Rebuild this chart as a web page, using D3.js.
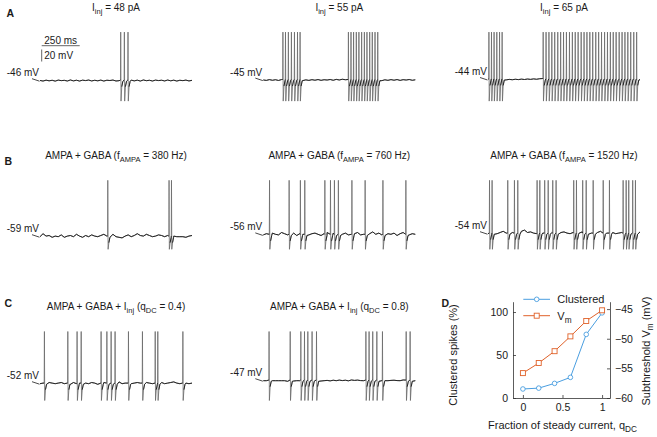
<!DOCTYPE html>
<html><head><meta charset="utf-8">
<script src="https://cdn.jsdelivr.net/npm/d3@7"></script>
<style>body{margin:0;background:#fff} svg{display:block;font-family:"Liberation Sans",Arial,sans-serif}</style>
</head><body><svg id="c" width="657" height="437"></svg>
<script>
// ---------------- DATA ----------------
// Panel A: injected currents, resting labels, spike times (ms), subthreshold Vm offsets (mV, every 20 ms)
const iinjA = ["48 pA", "55 pA", "65 pA"];
const restA = [-46, -45, -44];
const spikesA1 = [530, 554, 578];
const spikesA2 = [128, 145, 164, 184, 204, 224, 241, 559, 576, 593, 611, 628, 646, 664, 681, 699, 716, 734, 752];
const spikesA3 = [5, 22, 39, 57, 75, 92, 362, 381, 400, 419, 438, 458, 477, 496, 515, 535, 554, 573, 592, 612, 631, 650, 669, 688, 708, 727, 746, 766, 785, 804, 823, 842, 862, 881, 900, 919, 938, 958, 977];
const vmA1 = [0.4,-0.6,0.9,-0.2,0.7,-0.7,1.0,0.1,0.6,-0.5,1.2,-0.3,0.8,-0.6,0.9,0.2,1.1,-0.4,0.7,-0.2,1.0,-0.6,0.8,0.3,1.1,-0.5,0,0,0,-0.8,1.0,-0.3,0.9,-0.6,1.2,0.0,0.7,-0.5,1.0,0.2,0.8,-0.4,1.1,-0.2,0.9,-0.6,0.7,0.1,1.0,-0.4,0.6];
const vmA2 = [0.2,-0.5,0.8,-0.3,0.6,-0.6,0.9,0,0,0,0,0,0,-0.8,0.4,-0.5,0.7,-0.2,0.9,-0.4,0.6,0.1,1.0,-0.3,1.2,0.2,1.4,0.6,1.8,0,0,0,0,0,0,0,0,0,0,-0.9,0.5,-0.4,0.8,-0.2,0.9,-0.5,0.7,0.1,1.0,-0.3,0.5];
const vmA3 = [0,0,0,0,0,-1.2,-0.6,0.2,-0.4,0.4,-0.2,0.6,0,0.8,0.2,1.0,0.4,1.3,1.6,0,0,0,0,0,0,0,0,0,0,0,0,0,0,0,0,0,0,0,0,0,0,0,0,0,0,0,0,0,0,0,0];
// Panel B: AMPA rates, resting labels, spike times, subthreshold offsets
const fAMPA = [380, 760, 1520];
const restB = [-59, -56, -54];
const spikesB1 = [445, 848, 864];
const spikesB2 = [40, 169, 243, 272, 404, 441, 467, 493, 582, 669, 786, 937];
const spikesB3 = [9, 26, 129, 173, 195, 322, 340, 372, 395, 425, 447, 563, 581, 622, 645, 691, 757, 798, 888, 908, 925, 951, 969];
const vmB1 = [0,5,1,2,-1,1,0,3,-1,1,2,0,4,1,-1,2,0,3,1,0,2,4,1,3,4,0,-1,-2,1,3,0,2,5,2,1,4,2,0,1,3,2,0,2,4,1,0,0,0,-1,1,2];
const vmB2 = [0,2,-1,3,1,0,4,2,0,1,3,-1,2,1,4,0,2,3,1,-1,2,4,1,3,0,2,1,3,0,1,2,4,0,1,3,2,5,1,3,0,4,2,1,3,-1,2,4,1,0,2,1];
const vmB3 = [0,1,3,0,2,4,1,-1,2,3,1,4,6,2,3,1,0,2,1,3,0,2,4,1,2,3,1,0,2,4,1,3,0,2,1,3,2,4,0,1,3,2,0,1,2,3,1,0,2,1,3];
// Panel C: DC fractions, resting labels, spike times, subthreshold offsets
const qDCtitle = ["0.4", "0.8"];
const restC = [-52, -47];
const spikesC1 = [28, 182, 243, 270, 401, 439, 467, 493, 581, 673, 757, 774, 939];
const spikesC2 = [37, 176, 246, 270, 292, 320, 349, 674, 695, 719, 746, 783, 939, 965];
const vmC1 = [0,1,-1,2,1,0,1,2,0,1,-1,2,0,1,2,1,0,2,1,-1,0,2,1,0,2,1,3,0,1,2,0,1,2,1,0,2,1,0,3,1,2,0,1,2,3,1,0,2,1,0,1];
const vmC2 = [0,0,0,0,0,0,0,0,-1,0.5,-0.5,0,0,0,0,0,0,0,-1.5,-0.5,0,0.5,-0.3,0.8,0,1,0.2,0.8,-0.2,1.2,0.5,1.0,0.2,0,0,0,0,0,0,0,0,0,0.5,0.8,0.2,0,1.2,0,0,0,0];
// Panel D
const qDC = [0, 0.2, 0.4, 0.6, 0.8, 1];
const clustered = [10.5, 11.5, 17, 24, 74, 99];
const vmSub = [-55.8, -54.1, -52.1, -49.6, -47.0, -45.2];
const ticksLeft = [0, 50, 100];
const ticksRight = [-60, -55, -50, -45];
const ticksX = [0, 0.5, 1];

// ---------------- DRAWING ----------------
const svg = d3.select("#c");
const FONT = "'Liberation Sans', Arial, sans-serif";
const ink = "#1a1a1a";

function rich(g, x, y, parts, size, anchor) {
  const t = g.append("text").attr("x", x).attr("y", y).attr("font-size", size)
    .attr("text-anchor", anchor || "middle").attr("fill", ink);
  let sub = false;
  parts.forEach(p => {
    const isSub = p[1] === "sub";
    const ts = t.append("tspan").text(p[0]).attr("fill", ink);
    if (isSub && !sub) ts.attr("dy", size * 0.3).attr("font-size", size * 0.75);
    else if (!isSub && sub) ts.attr("dy", -size * 0.3);
    else if (isSub) ts.attr("font-size", size * 0.75);
    sub = isSub;
  });
  return t;
}

const colX = [40, 263.3, 488];
const rowY0 = [53.1, 201.3, 352.5];
const TW = 152, K = 0.6;
const PEAK = 35, TROUGH = -80;

function trace(col, row, rest, spikes, vm) {
  const x = d3.scaleLinear().domain([0, 1000]).range([colX[col], colX[col] + TW]);
  const y = d3.scaleLinear().domain([0, 100]).range([rowY0[row], rowY0[row] - 100 * K]);
  const step = 1000 / (vm.length - 1);
  const pts = [];
  vm.forEach((v, i) => {
    const t = i * step;
    if (!spikes.some(s => t >= s - 1 && t <= s + 15)) pts.push({t, v: rest + v, sp: false});
  });
  spikes.forEach(s => {
    pts.push({t: s - 0.5, v: rest + 1, sp: false});
    pts.push({t: s + 1, v: PEAK, sp: true});
    pts.push({t: s + 3, v: TROUGH, sp: true});
    pts.push({t: s + 8, v: rest - 10, sp: false});
    pts.push({t: s + 15, v: rest - 1, sp: false});
  });
  pts.sort((a, b) => a.t - b.t);
  const clipped = pts.filter(p => p.t >= 0 && p.t <= 1000);
  const ln = d3.line().x(d => x(d.t)).y(d => y(d.v));
  svg.append("path").attr("d", ln(clipped))
    .attr("fill", "none").attr("stroke", "#6a6a6a").attr("stroke-width", 0.8).attr("stroke-linejoin", "round");
  svg.append("path").attr("d", ln.defined(d => !d.sp)(clipped))
    .attr("fill", "none").attr("stroke", "#1a1a1a").attr("stroke-width", 0.9).attr("stroke-linejoin", "round");
  // resting label with leader
  const by = y(rest);
  svg.append("line").attr("x1", x(0) - 8).attr("y1", by - 2).attr("x2", x(0) - 0.5).attr("y2", by + 0.5)
    .attr("stroke", ink).attr("stroke-width", 0.8);
  svg.append("text").attr("x", x(0) - 1).attr("y", by - 4.5).attr("text-anchor", "end")
    .attr("font-size", 10).attr("fill", ink).text(rest + " mV");
  return {x, y};
}

// Panel letters
[["A", 13, 6.5], ["B", 161, 4.5], ["C", 303, 4.5]].forEach(d => {
  svg.append("text").attr("x", d[2]).attr("y", d[1] + 4).attr("font-size", 10.5).attr("font-weight", "bold").attr("fill", ink).text(d[0]);
});
svg.append("text").attr("x", 441.5).attr("y", 307).attr("font-size", 10.5).attr("font-weight", "bold").attr("fill", ink).text("D");

// Row A
const spA = [spikesA1, spikesA2, spikesA3], vA = [vmA1, vmA2, vmA3];
let sA;
iinjA.forEach((c, i) => {
  const s = trace(i, 0, restA[i], spA[i], vA[i]);
  if (i === 0) sA = s;
  rich(svg, colX[i] + TW / 2, 10.5, [["I", ""], ["inj", "sub"], [" = " + c, ""]], 10);
});
// scale bar (250 ms, 20 mV) in panel A
{
  const x0 = sA.x(0) + 1.7, yb = 45.7;
  const len = sA.x(250) - sA.x(0);
  svg.append("line").attr("x1", x0).attr("x2", x0 + len).attr("y1", yb).attr("y2", yb).attr("stroke", "#555").attr("stroke-width", 0.9);
  svg.append("text").attr("x", x0 + len / 2).attr("y", 44).attr("text-anchor", "middle").attr("font-size", 10).attr("fill", ink).text("250 ms");
  const vlen = sA.y(0) - sA.y(20);
  svg.append("line").attr("x1", x0).attr("x2", x0).attr("y1", 49.5).attr("y2", 49.5 + vlen).attr("stroke", "#555").attr("stroke-width", 0.9);
  svg.append("text").attr("x", x0 + 2.5).attr("y", 58.5).attr("font-size", 10).attr("fill", ink).text("20 mV");
}

// Row B
const spB = [spikesB1, spikesB2, spikesB3], vB = [vmB1, vmB2, vmB3];
fAMPA.forEach((f, i) => {
  trace(i, 1, restB[i], spB[i], vB[i]);
  rich(svg, colX[i] + TW / 2, 158.5, [["AMPA + GABA (f", ""], ["AMPA", "sub"], [" = " + f + " Hz)", ""]], 10);
});

// Row C
const spC = [spikesC1, spikesC2], vC = [vmC1, vmC2];
qDCtitle.forEach((q, i) => {
  trace(i, 2, restC[i], spC[i], vC[i]);
  rich(svg, colX[i] + TW / 2, 309.5, [["AMPA + GABA + I", ""], ["inj", "sub"], [" (q", ""], ["DC", "sub"], [" = " + q + ")", ""]], 10);
});

// ---------------- Panel D ----------------
const xD = d3.scaleLinear().domain([-0.125, 1.1]).range([513, 610]);
const yL = d3.scaleLinear().domain([0, 112]).range([398, 301.7]);
const yR = d3.scaleLinear().domain([-60, -43.75]).range([398, 301.7]);
const blue = "#4a9ee0", orange = "#e0622a", axc = "#333";

const axB = d3.axisBottom(xD).tickValues(ticksX).tickSize(-3).tickSizeOuter(0).tickPadding(6).tickFormat(d3.format("~g"));
const axL = d3.axisLeft(yL).tickValues(ticksLeft).tickSize(-3).tickSizeOuter(0).tickPadding(5);
const axR = d3.axisRight(yR).tickValues(ticksRight).tickSize(-3).tickSizeOuter(0).tickPadding(5);
function styleAx(g) {
  g.select(".domain").attr("stroke", axc).attr("stroke-width", 0.8);
  g.selectAll(".tick line").attr("stroke", axc).attr("stroke-width", 0.8);
  g.selectAll(".tick text").attr("fill", ink).attr("font-size", 10.5).attr("font-family", FONT);
}
svg.append("g").attr("transform", "translate(0,398)").call(axB).call(styleAx);
svg.append("g").attr("transform", "translate(513,0)").call(axL).call(styleAx);
svg.append("g").attr("transform", "translate(610,0)").call(axR).call(styleAx);

// lines
const lnC = d3.line().x((d, i) => xD(qDC[i])).y(d => yL(d));
const lnV = d3.line().x((d, i) => xD(qDC[i])).y(d => yR(d));
svg.append("path").attr("d", lnC(clustered)).attr("fill", "none").attr("stroke", blue).attr("stroke-width", 1);
svg.append("path").attr("d", lnV(vmSub)).attr("fill", "none").attr("stroke", orange).attr("stroke-width", 1);
svg.selectAll(".mc").data(clustered).enter().append("circle").attr("class", "mc")
  .attr("cx", (d, i) => xD(qDC[i])).attr("cy", d => yL(d)).attr("r", 2.3)
  .attr("fill", "#fff").attr("stroke", blue).attr("stroke-width", 0.9);
svg.selectAll(".mv").data(vmSub).enter().append("rect").attr("class", "mv")
  .attr("x", (d, i) => xD(qDC[i]) - 2.5).attr("y", d => yR(d) - 2.5).attr("width", 5).attr("height", 5)
  .attr("fill", "#fff").attr("stroke", orange).attr("stroke-width", 0.9);

// legend
const lg = [["Clustered", blue, 299.3], ["V", orange, 315.7]];
lg.forEach((d, i) => {
  svg.append("line").attr("x1", 523.3).attr("x2", 550).attr("y1", d[2]).attr("y2", d[2]).attr("stroke", d[1]).attr("stroke-width", 1);
  if (i === 0) svg.append("circle").attr("cx", 536.7).attr("cy", d[2]).attr("r", 2.3).attr("fill", "#fff").attr("stroke", d[1]).attr("stroke-width", 0.9);
  else svg.append("rect").attr("x", 534.2).attr("y", d[2] - 2.5).attr("width", 5).attr("height", 5).attr("fill", "#fff").attr("stroke", d[1]).attr("stroke-width", 0.9);
});
rich(svg, 557.3, 303, [["Clustered", ""]], 11, "start");
rich(svg, 557.3, 319.5, [["V", ""], ["m", "sub"]], 11, "start");

// axis labels
rich(svg, 0, 0, [["Clustered spikes (%)", ""]], 11).attr("transform", "translate(457,355) rotate(-90)");
rich(svg, 0, 0, [["Subthreshold V", ""], ["m", "sub"], [" (mV)", ""]], 11).attr("transform", "translate(650,351) rotate(-90)");
rich(svg, 562.5, 429, [["Fraction of steady current, q", ""], ["DC", "sub"]], 11);
</script></body></html>
